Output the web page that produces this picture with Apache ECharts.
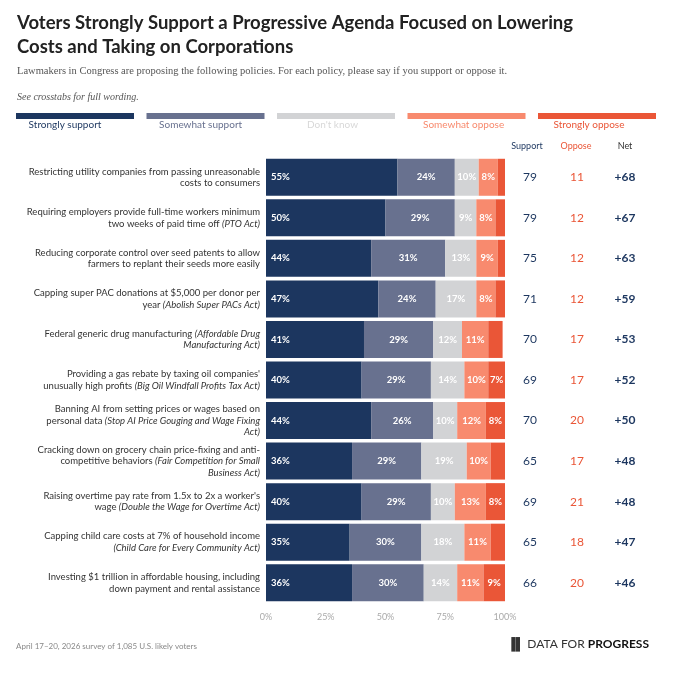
<!DOCTYPE html>
<html>
<head>
<meta charset="utf-8">
<script src="https://cdn.jsdelivr.net/npm/echarts@6/dist/echarts.min.js"></script>
<style>html,body{margin:0;padding:0;background:#fff}#main{width:674px;height:681px}</style>
</head>
<body>
<div id="main"></div>
<script>
var policies = [
	'Restricting utility companies from passing unreasonable\ncosts to consumers',
	'Requiring employers provide full-time workers minimum\ntwo weeks of paid time off (PTO Act)',
	'Reducing corporate control over seed patents to allow\nfarmers to replant their seeds more easily',
	'Capping super PAC donations at $5,000 per donor per\nyear (Abolish Super PACs Act)',
	'Federal generic drug manufacturing (Affordable Drug\nManufacturing Act)',
	'Providing a gas rebate by taxing oil companies\'\nunusually high profits (Big Oil Windfall Profits Tax Act)',
	'Banning AI from setting prices or wages based on\npersonal data (Stop AI Price Gouging and Wage Fixing\nAct)',
	'Cracking down on grocery chain price-fixing and anti-\ncompetitive behaviors (Fair Competition for Small\nBusiness Act)',
	'Raising overtime pay rate from 1.5x to 2x a worker\'s\nwage (Double the Wage for Overtime Act)',
	'Capping child care costs at 7% of household income\n(Child Care for Every Community Act)',
	'Investing $1 trillion in affordable housing, including\ndown payment and rental assistance'
];
var stronglySupport = [55, 50, 44, 47, 41, 40, 44, 36, 40, 35, 36];
var somewhatSupport = [24, 29, 31, 24, 29, 29, 26, 29, 29, 30, 30];
var dontKnow = [10, 9, 13, 17, 12, 14, 10, 19, 10, 18, 14];
var somewhatOppose = [8, 8, 9, 8, 11, 10, 12, 10, 13, 11, 11];
var stronglyOppose = [3, 4, 3, 4, 6, 7, 8, 7, 8, 7, 9];
var supportTotal = [79, 79, 75, 71, 70, 69, 70, 65, 69, 65, 66];
var opposeTotal = [11, 12, 12, 12, 17, 17, 20, 17, 21, 18, 20];
var netTotal = ['+68', '+67', '+63', '+59', '+53', '+52', '+50', '+48', '+48', '+47', '+46'];
var tickLabels = ['0%', '25%', '50%', '75%', '100%'];

var seriesNames = ['Strongly support', 'Somewhat support', "Don't know", 'Somewhat oppose', 'Strongly oppose'];
var colors = ['#1c365f', '#68718f', '#d2d3d5', '#f88a6e', '#ea5637'];
var legendText = ['#1c365f', '#68718f', '#d8d8d8', '#f88a6e', '#ea5637'];
var font = 'Lato, "Noto Sans", sans-serif';

// turn "(...)" parts into italic rich text, across line breaks
function fmtPolicy(v) {
	var ital = false;
	return v.split('\n').map(function (line) {
		var out = '', buf = '';
		for (var i = 0; i < line.length; i++) {
			var c = line[i];
			if (c === '(' && !ital) {
				if (buf) out += '{n|' + buf + '}';
				buf = '('; ital = true;
			} else if (c === ')' && ital) {
				out += '{i|' + buf + ')}'; buf = ''; ital = false;
			} else buf += c;
		}
		if (buf) out += (ital ? '{i|' : '{n|') + buf + '}';
		return out;
	}).join('\n');
}

var chart = echarts.init(document.getElementById('main'));
var data = [stronglySupport, somewhatSupport, dontKnow, somewhatOppose, stronglyOppose];
var series = data.map(function (arr, k) {
	return {
		name: seriesNames[k],
		type: 'bar',
		stack: 'all',
		barWidth: 37,
		itemStyle: { color: colors[k], borderColor: '#fff', borderWidth: 0 },
		label: {
			show: true,
			position: k === 0 ? 'insideLeft' : 'inside',
			color: '#fff',
			fontFamily: font,
			fontWeight: 'bold',
			fontSize: 9.5,
			formatter: function (p) { return p.value >= 8 || (k === 4 && p.value >= 7 && p.dataIndex === 5) ? p.value + '%' : ''; }
		},
		data: arr
	};
});

var graphics = [];
var legX = 16, legW = 118, legGap = 12.5;
seriesNames.forEach(function (n, k) {
	var x = legX + k * (legW + legGap);
	graphics.push({ type: 'rect', left: x, top: 113, shape: { width: legW, height: 6 }, style: { fill: colors[k] } });
	graphics.push({ type: 'text', left: x + legW / 2 - n.length * 2.9, top: 120, style: { text: n, fill: legendText[k], font: '10px ' + font } });
});
[['Support', 527, '#1c365f'], ['Oppose', 576, '#ea5637'], ['Net', 625, '#333']].forEach(function (h) {
	graphics.push({ type: 'text', x: h[1], y: 146, style: { text: h[0], fill: h[2], font: '9px ' + font, textAlign: 'center', textVerticalAlign: 'middle' } });
});
graphics.push({ type: 'text', left: 16, top: 642, style: { text: 'April 17\u201320, 2026 survey of 1,085 U.S. likely voters', fill: '#888', font: '8px ' + font } });
graphics.push({ type: 'text', right: 25, top: 638, style: { rich: { a: { fill: '#333', font: '12px ' + font }, b: { fill: '#111', font: 'bold 12px ' + font } }, text: '{a|\u2590\u258C DATA FOR }{b|PROGRESS}' } });

function sideAxis(vals, margin, color, bold) {
	return {
		type: 'category', inverse: true, position: 'right', data: vals,
		axisLine: { show: false }, axisTick: { show: false },
		axisLabel: { margin: margin, align: 'center', color: color, fontFamily: font, fontSize: 12, fontWeight: bold ? 'bold' : 'normal' }
	};
}

chart.setOption({
	backgroundColor: '#fff',
	title: {
		text: 'Voters Strongly Support a Progressive Agenda Focused on Lowering\nCosts and Taking on Corporations',
		subtext: 'Lawmakers in Congress are proposing the following policies. For each policy, please say if you support or oppose it.\n\n{i|See crosstabs for full wording.}',
		left: 12, top: 6, itemGap: 6,
		textStyle: { fontFamily: font, fontSize: 18.5, fontWeight: 'bold', color: '#222', lineHeight: 24 },
		subtextStyle: { fontFamily: '"Liberation Serif", serif', fontSize: 10.5, color: '#555', lineHeight: 13,
			rich: { i: { fontFamily: '"Liberation Serif", serif', fontStyle: 'italic', fontSize: 10, color: '#555' } } }
	},
	graphic: graphics,
	grid: { left: 266, right: 169, top: 157, bottom: 78 },
	xAxis: {
		type: 'value', min: 0, max: 100, interval: 25,
		splitLine: { show: false },
		axisLabel: { color: '#aaa', fontFamily: font, fontSize: 9, margin: 10,
			formatter: function (v) { return tickLabels[v / 25]; } }
	},
	yAxis: [
		{
			type: 'category', inverse: true, data: policies,
			axisLine: { show: false }, axisTick: { show: false },
			axisLabel: {
				margin: 6, align: 'right', formatter: fmtPolicy,
				rich: {
					n: { fontFamily: font, fontSize: 9.5, color: '#333', lineHeight: 11.5, align: 'right' },
					i: { fontFamily: font, fontSize: 9.5, color: '#333', lineHeight: 11.5, fontStyle: 'italic', align: 'right' }
				}
			}
		},
		sideAxis(supportTotal, 25, '#1c365f', false),
		sideAxis(opposeTotal, 72, '#ea5637', false),
		sideAxis(netTotal, 120, '#1c365f', true)
	],
	series: series
});
</script>
</body>
</html>
